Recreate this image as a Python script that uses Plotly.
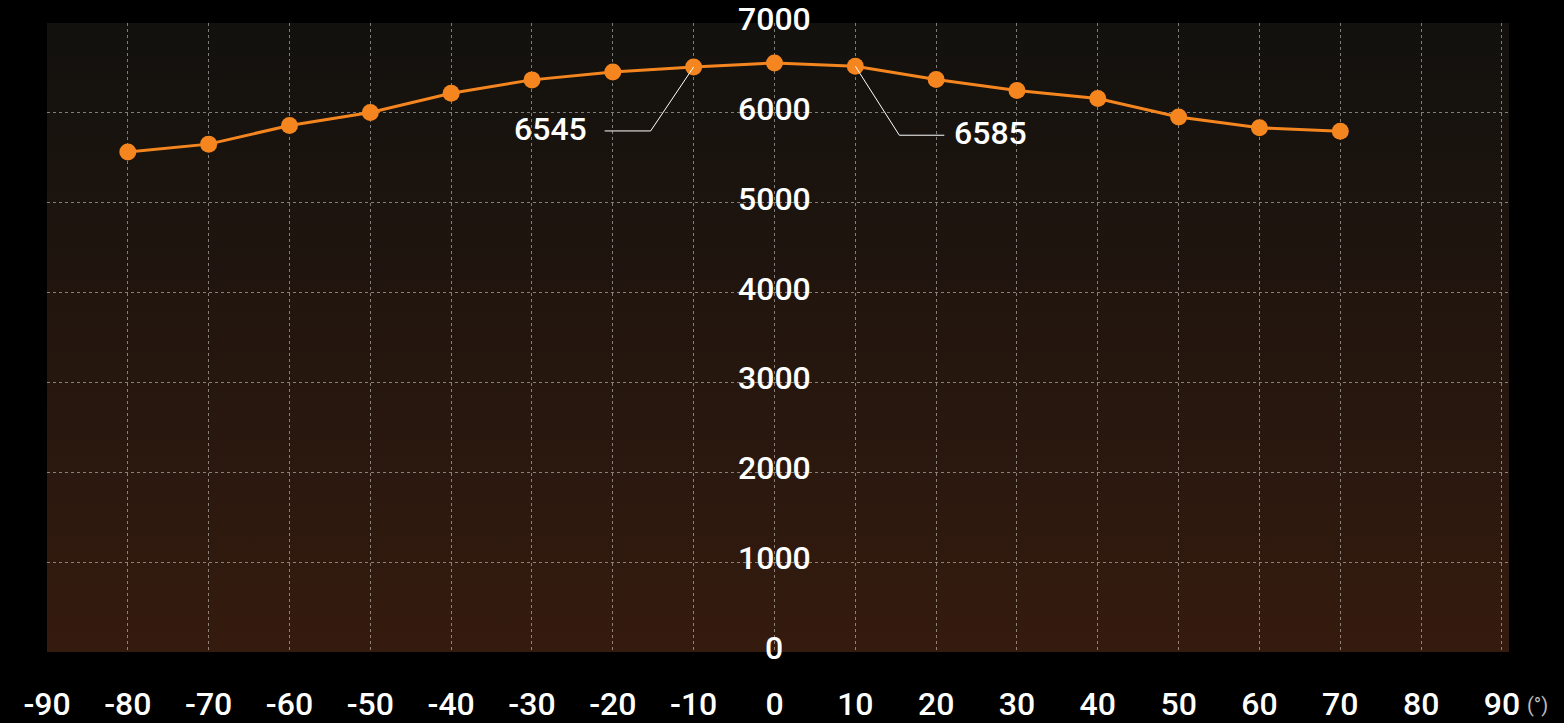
import base64
import plotly.graph_objects as go

# ---- data ----
angles = [-80, -70, -60, -50, -40, -30, -20, -10, 0, 10, 20, 30, 40, 50, 60, 70]
values = [5565, 5652, 5860, 6005, 6219, 6367, 6455, 6511, 6556, 6519, 6371, 6249, 6160, 5955, 5833, 5796]
x_ticks = [-90, -80, -70, -60, -50, -40, -30, -20, -10, 0, 10, 20, 30, 40, 50, 60, 70, 80, 90]
y_ticks = [0, 1000, 2000, 3000, 4000, 5000, 6000, 7000]
callout_angles = [-10, 10]
callout_texts = ["6545", "6585"]
unit_label = "(°)"

ORANGE = "#f5861f"
FONT = "Roboto"

svg = (
    '<svg xmlns="http://www.w3.org/2000/svg" width="100" height="100" preserveAspectRatio="none">'
    '<defs><linearGradient id="g" x1="0" y1="0" x2="0" y2="1">'
    '<stop offset="0" stop-color="#12110e"/><stop offset="1" stop-color="#351b0e"/>'
    '</linearGradient></defs><rect width="100" height="100" fill="url(#g)"/></svg>'
)
bg_src = "data:image/svg+xml;base64," + base64.b64encode(svg.encode()).decode()

fig = go.Figure()
fig.add_trace(go.Scatter(
    x=angles, y=values, mode="lines+markers",
    line=dict(color=ORANGE, width=3),
    marker=dict(color=ORANGE, size=17),
    hoverinfo="x+y", showlegend=False,
))

grid = dict(showgrid=True, gridcolor="rgba(255,255,255,0.45)", gridwidth=1, griddash="3px,3px",
            zeroline=False, showline=False, ticks="", automargin=False)

fig.update_layout(
    width=1564, height=723,
    margin=dict(l=47, r=55, t=23, b=71),
    paper_bgcolor="black",
    plot_bgcolor="rgba(0,0,0,0)",
    font=dict(family=FONT, color="white"),
    xaxis=dict(range=[-90, 90.87], tickmode="array", tickvals=x_ticks,
               ticktext=[str(v) for v in x_ticks],
               tickfont=dict(family=FONT, size=32, color="white", weight=500),
               ticklabelstandoff=30, **grid),
    yaxis=dict(range=[0, 7000], tickmode="array", tickvals=y_ticks,
               showticklabels=False, **grid),
    images=[dict(source=bg_src, xref="paper", yref="paper", x=0, y=1, sizex=1, sizey=1,
                 xanchor="left", yanchor="top", sizing="stretch", layer="below")],
)

# y tick labels in the middle of the plot
for v in y_ticks:
    fig.add_annotation(x=0, y=v, text=str(v), showarrow=False, xanchor="center", yanchor="middle",
                       yshift=4, font=dict(family=FONT, size=32, color="white", weight=500))

# callouts with elbow leader lines
idx = {a: i for i, a in enumerate(angles)}
for a, t in zip(callout_angles, callout_texts):
    yv = values[idx[a]]
    s = -1 if a < 0 else 1
    elbow_dx, elbow_dy, end_dx = (43, -64, 89) if a < 0 else (44, -69, 89)
    path = f"M0,0 L{s*elbow_dx},{elbow_dy} L{s*end_dx},{elbow_dy}"
    fig.add_shape(type="path", xref="x", yref="y", xsizemode="pixel", ysizemode="pixel",
                  xanchor=a, yanchor=yv, path=path, line=dict(color="white", width=1))
    fig.add_annotation(x=a, y=yv, text=t, showarrow=False,
                       xanchor="right" if a < 0 else "left", yanchor="middle",
                       xshift=s * (end_dx + 16) if a < 0 else s * (end_dx + 8),
                       yshift=elbow_dy + 2,
                       font=dict(family=FONT, size=32, color="white", weight=500))

fig.add_annotation(xref="paper", yref="paper", x=1.0198, y=-0.0837, text=unit_label, showarrow=False,
                   xanchor="center", yanchor="middle", font=dict(family=FONT, size=20, color="#bbbbbb"))

fig.write_html("out.html", config={"displayModeBar": False},
               post_script="document.body.style.margin='0';document.body.style.background='black';")
